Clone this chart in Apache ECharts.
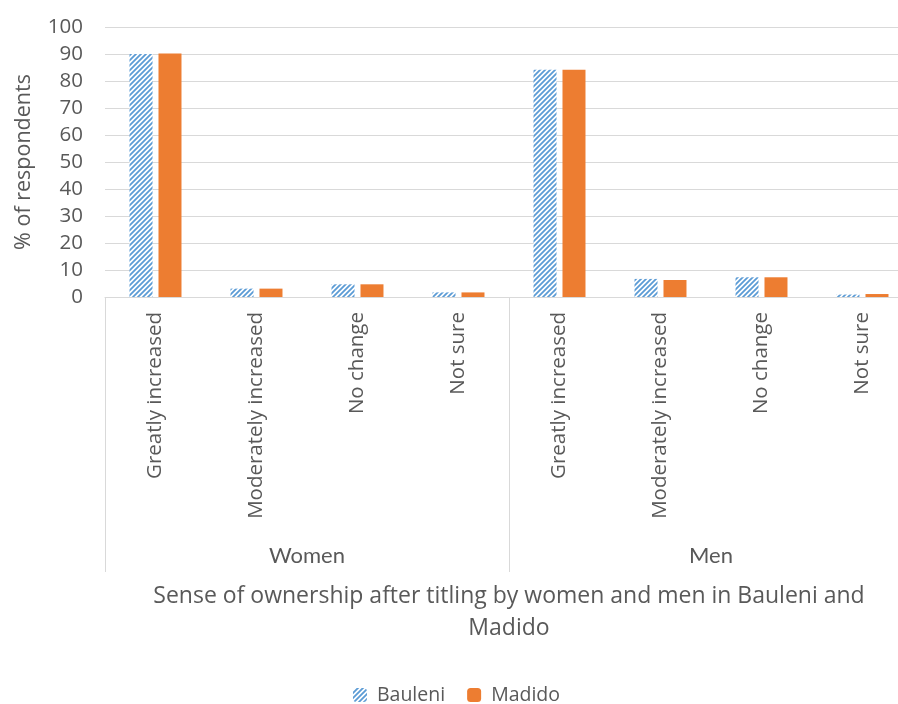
<!DOCTYPE html>
<html>
<head>
<meta charset="utf-8">
<script src="https://cdn.jsdelivr.net/npm/echarts@6/dist/echarts.min.js"></script>
<style>
  html, body { margin: 0; padding: 0; background: #fff; overflow: hidden; }
  /* the plot area runs slightly past the right edge of the window */
  #chart { width: 913px; height: 704px; }
</style>
</head>
<body>
<div id="chart"></div>
<script>
// Response categories, repeated for each group
const categories = [
  'Greatly increased', 'Moderately increased', 'No change', 'Not sure',
  'Greatly increased', 'Moderately increased', 'No change', 'Not sure'
];
const groups = ['Women', 'Men'];
const yTicks = { min: 0, max: 100, step: 10 };

// % of respondents per category (Women block, then Men block)
const bauleni = [90.0, 3.1, 4.7, 1.7, 84.2, 6.7, 7.3, 0.9];
const madido  = [90.2, 3.1, 4.7, 1.7, 84.2, 6.3, 7.3, 1.1];

const FONT = '"Open Sans", "Noto Sans", sans-serif';
const TEXT = '#595959';
const GRID_LINE = '#d9d9d9';

// Upward diagonal hatch fill used for the Bauleni bars
function hatchPattern() {
  const c = document.createElement('canvas');
  const s = 5;
  c.width = s; c.height = s;
  const ctx = c.getContext('2d');
  ctx.fillStyle = '#ffffff';
  ctx.fillRect(0, 0, s, s);
  ctx.strokeStyle = '#5B9BD5';
  ctx.lineWidth = 1.8;
  ctx.beginPath();
  ctx.moveTo(-1, s + 1); ctx.lineTo(s + 1, -1);
  ctx.moveTo(-1, 1); ctx.lineTo(1, -1);
  ctx.moveTo(s - 1, s + 1); ctx.lineTo(s + 1, s - 1);
  ctx.stroke();
  return { image: c, repeat: 'repeat' };
}

const chart = echarts.init(document.getElementById('chart'), null, { renderer: 'canvas' });

chart.setOption({
  animation: false,
  backgroundColor: '#ffffff',
  grid: { left: 105, top: 27, right: 0, height: 270, containLabel: false },
  legend: {
    top: 680,
    left: 'center',
    itemWidth: 14,
    itemHeight: 14,
    itemGap: 22,
    textStyle: { fontFamily: FONT, fontSize: 19.5, color: TEXT, padding: [0, 0, 0, 5] },
    data: ['Bauleni', 'Madido']
  },
  xAxis: [
    {
      type: 'category',
      data: categories,
      position: 'bottom',
      axisLine: { show: true, lineStyle: { color: GRID_LINE, width: 1 } },
      axisTick: { show: false },
      axisLabel: {
        rotate: 90,
        margin: 15,
        interval: 0,
        fontFamily: FONT,
        fontSize: 20.5,
        color: TEXT
      }
    },
    {
      type: 'category',
      data: groups,
      position: 'bottom',
      axisLine: { show: false },
      axisTick: { show: true, length: 275, lineStyle: { color: GRID_LINE, width: 1 } },
      axisLabel: {
        margin: 248,
        fontFamily: 'Lato, "Open Sans", sans-serif',
        fontSize: 22,
        color: TEXT
      },
      name: 'Sense of ownership after titling by women and men in Bauleni and\nMadido',
      nameLocation: 'middle',
      nameGap: 283,
      nameTextStyle: {
        fontFamily: FONT,
        fontSize: 23,
        color: TEXT,
        lineHeight: 32,
        align: 'center',
        verticalAlign: 'top'
      }
    }
  ],
  yAxis: {
    type: 'value',
    min: yTicks.min,
    max: yTicks.max,
    interval: yTicks.step,
    axisLine: { show: false },
    axisTick: { show: false },
    splitLine: { lineStyle: { color: GRID_LINE, width: 1 } },
    axisLabel: { fontFamily: FONT, fontSize: 20.5, color: TEXT, margin: 22 },
    name: '% of respondents',
    nameLocation: 'middle',
    nameGap: 70,
    nameRotate: 90,
    nameTextStyle: { fontFamily: FONT, fontSize: 21.5, color: TEXT }
  },
  series: [
    {
      name: 'Bauleni',
      type: 'bar',
      xAxisIndex: 0,
      data: bauleni,
      barWidth: 23,
      barGap: '26%',
      itemStyle: { color: hatchPattern() }
    },
    {
      name: 'Madido',
      type: 'bar',
      xAxisIndex: 0,
      data: madido,
      barWidth: 23,
      barGap: '26%',
      itemStyle: { color: '#ED7D31' }
    }
  ]
});
</script>
</body>
</html>
